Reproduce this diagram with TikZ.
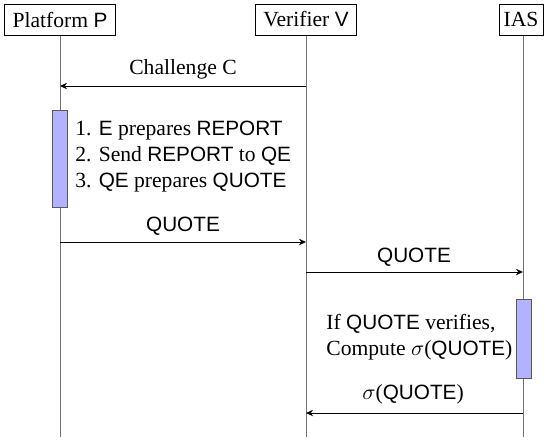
\documentclass[tikz,border=0pt]{standalone}
\usepackage{fontspec}
\setmainfont{Liberation Serif}
\setsansfont{Liberation Sans}[Scale=0.96]
\usetikzlibrary{arrows.meta}

\begin{document}
\begin{tikzpicture}[x=0.5pt,y=-0.5pt,
  font=\fontsize{10.8}{12.6}\selectfont,
  actor/.style={draw, line width=0.5pt, minimum height=15.5pt, inner xsep=0pt, inner ysep=0pt, fill=white},
  lifeline/.style={draw=black!55, line width=0.5pt},
  msg/.style={draw, line width=0.5pt, -{Stealth[length=3.5pt,width=3.2pt]}},
  activity/.style={draw=black!65, fill=blue!30, line width=0.5pt, minimum width=7.5pt, inner sep=0pt},
  lbl/.style={inner sep=0pt, anchor=base},
  note/.style={inner sep=0pt, align=left, anchor=base west}]

\useasboundingbox (0,0) rectangle (545,440);

% participants
\node[actor, minimum width=55.5pt] (P) at (60,19.5) {Platform \textsf{P}};
\node[actor, minimum width=50.5pt] (V) at (306,19.5) {Verifier \textsf{V}};
\node[actor, minimum width=22pt]   (I) at (521,19.5) {IAS};

% ends of the lifelines
\coordinate (Pend) at (60,437);
\coordinate (Vend) at (306,437);
\coordinate (Iend) at (523,437);

\draw[lifeline] (P.south) -- (Pend);
\draw[lifeline] (V.south) -- (Vend);
\draw[lifeline] (I.south -| Iend) -- (Iend);

% activation bars
\node[activity, minimum height=48.5pt] (Pact) at (60,158.5) {};
\node[activity, minimum height=39.5pt] (Iact) at (523.5,338.5) {};

% message end points on the lifelines
\coordinate (m1s) at (306,86);  \coordinate (m1e) at (60,86);
\coordinate (m2s) at (60,242);  \coordinate (m2e) at (306,242);
\coordinate (m3s) at (306,272); \coordinate (m3e) at (523,272);
\coordinate (m4s) at (523,413); \coordinate (m4e) at (306,413);

\draw[msg] (m1s) -- (m1e);
\draw[msg] (m2s) -- (m2e);
\draw[msg] (m3s) -- (m3e);
\draw[msg] (m4s) -- (m4e);

% message labels
\node[lbl] (l1) at (183,74) {Challenge C};
\node[lbl] (l2) at (183,231) {\textsf{QUOTE}};
\node[lbl] (l3) at (414,262) {\textsf{QUOTE}};
\node[lbl] (l4) at (413,399) {$\sigma$(\textsf{QUOTE})};

% local computations (anchored at the baseline of the last line)
\node[note] (n1) at (75,187.5) {1. \textsf{E} prepares \textsf{REPORT}\\[0.3pt]
  2. Send \textsf{REPORT} to \textsf{QE}\\[0.3pt]
  3. \textsf{QE} prepares \textsf{QUOTE}};
\node[note] (n2) at (326,355) {If \textsf{QUOTE} verifies,\\
  Compute $\sigma$(\textsf{QUOTE})};
\end{tikzpicture}
\end{document}
